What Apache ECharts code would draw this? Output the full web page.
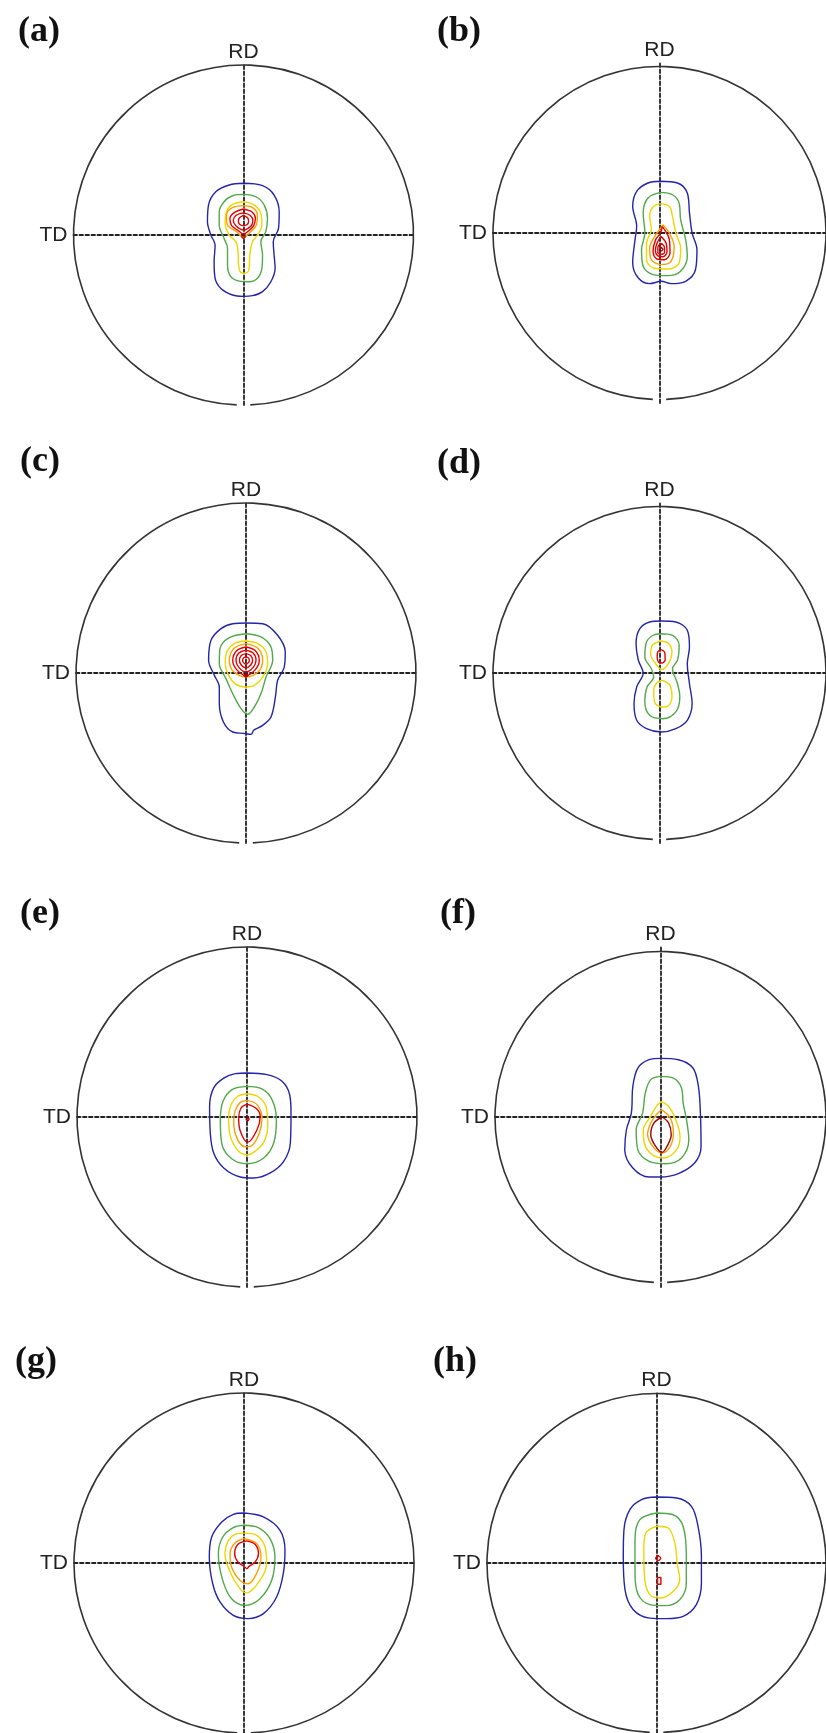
<!DOCTYPE html>
<html>
<head>
<meta charset="utf-8">
<script src="https://cdn.jsdelivr.net/npm/echarts@6/dist/echarts.min.js"></script>
<style>
html,body{margin:0;padding:0;background:#fff;}
#chart{width:826px;height:1733px;}
</style>
</head>
<body>
<div id="chart"></div>
<script>
// ---- data: contour lines of the pole figures, in % of the projection radius ----
const panelLabels = ['(a)', '(b)', '(c)', '(d)', '(e)', '(f)', '(g)', '(h)'];
const axisNames = { horizontal: 'TD', vertical: 'RD' };
const levelColors = ['#2424a8', '#52a84a', '#ecd800', '#ffa000', '#e60000', '#a00000'];

const aBlue = [[0,30.4],[11.2,29.0],[18.0,23.5],[21.0,13.7],[20.6,3.9],[17.5,-3.9],[18.0,-11.8],[18.6,-19.6],[16.1,-27.5],[11.2,-33.3],[5.3,-35.7],[0,-36.1],[-6.5,-35.3],[-13.3,-31.4],[-16.7,-25.5],[-17.3,-15.7],[-16.7,-5.9],[-19.2,0],[-21.2,7.8],[-20.6,17.6],[-16.3,25.5],[-8.4,29.4]];
const aGreen = [[0,23.9],[7.3,22.5],[12.2,17.6],[14.1,9.8],[13.1,2.0],[10.2,-3.9],[11.2,-11.8],[10.8,-19.6],[8.2,-25.5],[3.3,-27.5],[-2.5,-27.1],[-7.5,-24.5],[-9.4,-17.6],[-9.4,-7.8],[-11.4,-2.0],[-14.3,5.9],[-14.3,13.7],[-11.4,19.6],[-6.5,23.1]];
const aYellow = [[0,19.6],[6.3,17.6],[10.2,12.7],[10.8,5.9],[8.2,0],[5.3,-3.9],[3.7,-11.8],[3.3,-19.6],[1.4,-22.5],[-1.6,-22.0],[-2.9,-17.6],[-3.3,-8.8],[-4.5,-3.9],[-8.4,0],[-10.8,6.9],[-10.0,13.7],[-6.5,18.0]];
const aOrange = [[0,17.3],[5.3,16.1],[8.2,11.8],[7.6,5.9],[4.3,2.0],[0,-1.4],[-4.1,2.0],[-9.4,5.9],[-10,11.8],[-6.5,16.1]];
const aRed1 = [[0,15.3],[5,13.5],[7,9.8],[6,5.5],[3,2.5],[0,0.5],[-3,2.5],[-7,5.5],[-8,9.8],[-5,13.5]];
const aRed2 = [[0,13],[4,11.5],[5.5,8.5],[4.5,5.5],[0,3],[-4.5,5.5],[-6,8.5],[-4.5,11.5]];
const aRed3 = [[0,11.5],[2.5,10],[3,8],[2,6],[0,5.5],[-2,6],[-3,8],[-2.5,10]];
const aDark = [[0,0],[1,-1],[0,-2],[-1,-1]];

const bBlue = [[0.6,30.4],[10.8,29.4],[16.7,23.5],[18.0,11.8],[19.6,0],[22.5,-9.8],[21.6,-21.6],[15.7,-28.4],[6.9,-29.8],[1.0,-28.4],[-5.9,-29.8],[-12.7,-26.5],[-16.1,-17.6],[-14.7,-3.9],[-13.7,3.9],[-16.1,15.7],[-13.7,24.5],[-6.9,29.4]];
const bGreen = [[0.6,23.9],[7.8,22.5],[11.8,17.6],[12.7,7.8],[15.7,-3.9],[16.7,-13.7],[12.7,-22.5],[4.9,-25.1],[-3.9,-24.5],[-9.8,-19.6],[-10.8,-9.8],[-8.8,0],[-9.8,11.8],[-6.9,20.6]];
const bYellow = [[0.6,17.3],[5.9,15.7],[7.8,9.8],[9.8,0],[12.7,-8.8],[11.8,-17.6],[4.9,-21.2],[-3.5,-20.6],[-7.8,-15.7],[-7.8,-5.9],[-4.9,2.0],[-5.9,9.8],[-3.9,15.3]];
const bOrange = [[2.0,4.9],[5.9,0],[8.8,-7.8],[6.9,-16.7],[1.0,-18.6],[-4.9,-15.7],[-5.9,-8.8],[-2.9,-2.0],[0,2.0]];
const bRed1 = [[1.6,3.9],[5.9,-3.9],[6.3,-11.8],[2.9,-15.7],[-1.6,-15.3],[-3.9,-10.8],[-2.3,-3.9],[0.6,0]];
const bRed2 = [[1,-2],[4,-6],[4.5,-11],[2,-14],[-1,-13.5],[-2.5,-10.5],[-1.5,-6]];
const bRed3 = [[1,-6],[3,-8.5],[3,-11.5],[1,-12.5],[-1,-11.5],[-1,-8.5]];
const bDark = [[1,-8.5],[2,-9.5],[1,-10.5],[0,-9.5]];

const cBlue = [[0,29.4],[9.8,29.0],[18.6,22.2],[23.1,12.4],[22.5,3.5],[18.6,-4.3],[17.3,-14.1],[14.7,-25.9],[9.8,-30.8],[4.5,-33.7],[3.0,-36.1],[-1.5,-35.5],[-7.8,-34.7],[-13.3,-28.8],[-15.7,-18.0],[-15.7,-8.2],[-18.6,-1.4],[-22.0,7.5],[-20.6,19.2],[-14.7,26.1],[-7.8,29.0]];
const cGreen = [[0,23.1],[8.8,21.2],[14.7,15.3],[15.7,7.5],[11.8,-2.4],[8.8,-12.2],[4.9,-20.0],[1.0,-24.3],[-2.9,-21.0],[-7.8,-12.2],[-11.8,-3.3],[-15.7,5.5],[-15.3,14.3],[-9.8,20.8]];
const cYellow = [[0,18.8],[6.9,17.3],[11.8,12.4],[12.7,5.5],[9.8,-2.4],[4.9,-7.3],[0,-8.2],[-5.9,-6.7],[-10.2,-1.4],[-12.2,6.5],[-10.8,13.3],[-6.3,17.6]];
const cOrange = [[0,17.3],[7,14.5],[9.8,7.5],[7.5,1],[0,-2.4],[-7.5,1],[-9.8,7.5],[-7,14.5]];
const cRed1 = [[0,15.3],[5.5,13.1],[7.8,7.5],[5.5,2.0],[0,-1.4],[-5.5,2.0],[-7.8,7.5],[-5.5,13.1]];
const cRed2 = [[0,13.4],[4.2,11.7],[5.9,7.5],[4.2,3.3],[0,0.6],[-4.2,3.3],[-5.9,7.5],[-4.2,11.7]];
const cRed3 = [[0,11.4],[2.8,10.3],[3.9,7.5],[2.8,4.7],[0,3.0],[-2.8,4.7],[-3.9,7.5],[-2.8,10.3]];
const cRed4 = [[0,9.5],[1.4,8.9],[2,7.5],[1.4,6.1],[0,5.0],[-1.4,6.1],[-2,7.5],[-1.4,8.9]];
const cDark = [[0,-0.6],[1.2,-1.4],[0,-2.2],[-1.2,-1.4]];

const dBlue = [[1.0,30.6],[9.8,30.0],[16.7,25.1],[18.0,15.3],[16.7,5.5],[18.0,-6.3],[19.6,-18.0],[16.7,-27.8],[9.8,-32.7],[1.0,-34.7],[-7.8,-32.7],[-13.7,-27.8],[-15.3,-18.0],[-13.7,-8.2],[-9.8,0],[-12.7,7.5],[-14.1,17.3],[-11.8,26.1],[-5.9,30.0]];
const dGreen = [[0.6,23.1],[7.8,22.2],[11.8,16.3],[10.8,7.5],[7.8,2.5],[10.8,-6.3],[12.2,-14.1],[9.8,-22.9],[2.0,-26.9],[-5.9,-24.9],[-8.8,-17.1],[-7.5,-8.2],[-3.5,-2.4],[-4.9,2.5],[-8.8,9.4],[-7.8,18.2],[-3.9,22.2]];
const dYellow1 = [[1.0,18.8],[5.5,17.3],[7.5,12.4],[5.9,6.5],[1.6,2.0],[-2.4,5.5],[-5.3,11.0],[-4.3,16.3]];
const dYellow2 = [[2.0,-4.3],[6.3,-7.3],[7.5,-14.1],[4.9,-19.6],[1.0,-20.0],[-2.9,-17.1],[-3.5,-10.2],[-1.6,-5.7]];
const dRed = [[1,13.7],[3.2,12],[3.4,8],[1.6,5.9],[-0.6,6.5],[-1.4,9.5],[-1,12.5]];

const eBlue = [[0,25.9],[11.8,24.9],[20.6,21.0],[25.1,13.1],[25.9,2.4],[25.5,-15.3],[21.6,-26.1],[13.7,-32.9],[3.9,-35.9],[-3.9,-35.3],[-13.7,-30.0],[-19.6,-21.2],[-21.6,-9.4],[-22.0,6.3],[-19.6,17.1],[-13.7,22.9],[-6.9,25.5]];
const eGreen = [[0,18.0],[8.8,16.5],[14.7,10.2],[17.3,-1.6],[15.7,-15.3],[9.8,-24.1],[0,-27.5],[-8.8,-24.7],[-14.7,-16.3],[-15.7,-1.6],[-14.1,9.2],[-8.8,16.1]];
const eYellow = [[0,13.7],[6.9,11.8],[11.4,5.3],[12.2,-5.5],[9.8,-14.9],[3.9,-20.8],[0,-22.2],[-4.9,-20.2],[-9.8,-11.4],[-10.8,-0.6],[-9.4,7.3],[-5.5,12.2]];
const eOrange = [[0,9.8],[5.9,7.3],[8.8,-0.6],[7.3,-9.4],[2.4,-17.1],[-1.0,-17.5],[-5.5,-13.3],[-7.8,-3.5],[-6.9,3.9],[-3.9,8.6]];
const eRed = [[0,7.6],[5.5,5],[7.8,0.4],[5.9,-7.5],[0.4,-14.9],[-3.9,-8.4],[-4.9,-0.6],[-3.5,5.3]];
const eDark = [[0.4,0],[1.2,-1.2],[0.4,-2.2],[-0.5,-1.2]];

const fBlue = [[0,34.5],[10.8,33.7],[19.6,28.8],[22.9,18.0],[24.1,2.4],[24.5,-17.3],[20.6,-27.1],[10.8,-33.3],[0,-35.3],[-6.9,-35.3],[-16.7,-30.0],[-21.6,-19.2],[-20.6,-7.5],[-17.6,2.4],[-16.7,18.0],[-13.7,28.8],[-6.9,33.7]];
const fGreen = [[0,23.9],[7.8,22.9],[12.7,17.1],[13.7,8.2],[15.7,-1.6],[17.1,-13.3],[12.7,-24.1],[2.9,-27.5],[-6.9,-26.1],[-13.7,-19.2],[-14.7,-7.5],[-10.8,2.4],[-9.2,14.1],[-5.9,22.0]];
const fYellow = [[0.6,9.2],[4.9,6.3],[9.2,-1.6],[11.8,-11.4],[9.8,-19.2],[2.0,-24.1],[-4.9,-22.2],[-9.8,-15.3],[-10.4,-7.5],[-5.9,0.4],[-2.5,6.3]];
const fOrange = [[0.6,4.3],[5.9,-0.6],[7.8,-9.4],[5.9,-17.3],[1.0,-21.2],[-4.5,-17.6],[-7.8,-10.2],[-5.9,-3.5],[-2.5,1.4]];
const fRed = [[1.0,0],[4.9,-3.5],[6.5,-10.4],[3.9,-17.3],[1.0,-20.8],[-2.9,-17.3],[-5.9,-10.4],[-3.9,-3.5]];

const gBlue = [[0,29.4],[11.4,27.1],[21.2,19.2],[24.1,7.5],[23.1,-6.3],[19.2,-20.0],[11.4,-29.8],[2.5,-32.7],[-6.3,-30.8],[-14.1,-22.9],[-18.4,-12.2],[-20.4,3.5],[-19.0,15.3],[-13.1,24.1],[-6.3,28.6]];
const gGreen = [[0,22.2],[8.4,20.8],[15.3,14.3],[18.2,3.5],[16.3,-10.2],[9.4,-21.0],[0.6,-24.9],[-7.3,-21.0],[-12.5,-10.2],[-15.1,5.5],[-12.5,15.3],[-6.3,20.8]];
const gYellow = [[0,17.6],[7.5,16.3],[12.4,9.4],[13.3,-0.4],[9.4,-10.2],[1.6,-17.6],[-2.4,-15.1],[-8.2,-5.3],[-11.2,5.5],[-9.2,13.3],[-5.3,16.9]];
const gOrange = [[0,14.3],[7.5,11.4],[10.0,3.5],[7.8,-5.3],[2.5,-12.2],[-2.4,-10.2],[-7.3,-2.4],[-8.2,5.5],[-5.3,11.8]];
const gRed = [[1.6,13],[6.5,11],[8.5,5.5],[6.5,0.5],[3,-2],[1.6,-3.3],[0,-2],[-3.5,0.5],[-5.5,5.5],[-3.5,11]];

const hBlue = [[0,38.8],[11.8,38.2],[20.6,33.3],[24.5,21.6],[26.5,3.9],[26.5,-11.8],[23.5,-24.5],[15.7,-31.4],[5.9,-32.7],[-3.9,-32.4],[-13.7,-27.5],[-18.6,-15.7],[-19.6,3.9],[-19.2,19.6],[-15.7,31.4],[-8.8,37.3]];
const hGreen = [[0,29.4],[9.8,28.4],[15.7,21.6],[17.6,3.9],[17.6,-11.8],[13.7,-21.6],[4.9,-25.1],[-3.9,-24.5],[-10.8,-18.6],[-12.7,-5.9],[-12.7,13.7],[-9.8,25.5]];
const hYellow = [[0,21.6],[6.9,20.6],[10.8,11.8],[12.2,0],[13.7,-9.8],[9.8,-16.7],[2.0,-20.6],[-3.9,-18.6],[-6.9,-9.8],[-7.5,7.8],[-6.3,17.6]];
const hRed1 = [[1,4.4],[2.5,2.9],[1,1.4],[-0.5,2.9]];
const hRed2 = [[0.6,-8.5],[2.6,-8.5],[2.6,-12.5],[0.6,-12.5]];

// contours per panel: [points, level index]
const panelContours = [
  [[aBlue,0],[aGreen,1],[aYellow,2],[aOrange,3],[aRed1,4],[aRed2,4],[aRed3,4],[aDark,5]],
  [[bBlue,0],[bGreen,1],[bYellow,2],[bOrange,3],[bRed1,4],[bRed2,4],[bRed3,4],[bDark,5]],
  [[cBlue,0],[cGreen,1],[cYellow,2],[cOrange,3],[cRed1,4],[cRed2,4],[cRed3,4],[cRed4,4],[cDark,5]],
  [[dBlue,0],[dGreen,1],[dYellow1,2],[dYellow2,2],[dRed,4]],
  [[eBlue,0],[eGreen,1],[eYellow,2],[eOrange,3],[eRed,4],[eDark,5]],
  [[fBlue,0],[fGreen,1],[fYellow,2],[fOrange,3],[fRed,5]],
  [[gBlue,0],[gGreen,1],[gYellow,2],[gOrange,3],[gRed,4]],
  [[hBlue,0],[hGreen,1],[hYellow,2],[hRed1,4],[hRed2,4]]
];
const projectionRadius = 100;

// ---- layout ----
const SIZE = 340;
const centers = [[243.5,235],[663,233],[246,673],[663,673],[247,1117],[665,1117],[244,1563],[657,1563]];
const labelPos = [[13,9],[432,9],[15,439],[432,441],[15,891],[435,891],[10,1339],[428,1339]];

const chart = echarts.init(document.getElementById('chart'), null, {renderer:'canvas'});

const grids = [], xAxes = [], yAxes = [], titles = [], series = [];
const gap = 0.04;
centers.forEach((c, i) => {
  grids.push({left: c[0] - SIZE/2, top: c[1] - SIZE/2, width: SIZE, height: SIZE, containLabel: false});
  const dash = {color: '#222', width: 1.8, type: [3.5, 2.5]};
  xAxes.push({
    gridIndex: i, type: 'value', min: -projectionRadius, max: projectionRadius,
    name: axisNames.horizontal, nameLocation: 'start', nameGap: 6,
    nameTextStyle: {fontFamily: 'Liberation Sans', fontSize: 21, color: '#222'},
    axisLine: {show: true, onZero: true, lineStyle: dash},
    axisTick: {show: false}, axisLabel: {show: false}, splitLine: {show: false}
  });
  yAxes.push({
    gridIndex: i, type: 'value', min: -projectionRadius, max: projectionRadius,
    name: axisNames.vertical, nameLocation: 'end', nameGap: 2,
    nameTextStyle: {fontFamily: 'Liberation Sans', fontSize: 21, color: '#222'},
    axisLine: {show: true, onZero: true, lineStyle: dash},
    axisTick: {show: false}, axisLabel: {show: false}, splitLine: {show: false}
  });
  titles.push({
    text: panelLabels[i], left: labelPos[i][0], top: labelPos[i][1],
    textStyle: {fontFamily: 'Liberation Serif', fontWeight: 'bold', fontSize: 36, color: '#111'}
  });
  // projection circle (with the small gap at the bottom as in the original)
  series.push({
    type: 'custom', coordinateSystem: 'cartesian2d', xAxisIndex: i, yAxisIndex: i,
    data: [[0, 0]], silent: true, clip: false,
    renderItem: function (params, api) {
      const o = api.coord([0, 0]);
      const e = api.coord([projectionRadius, 0]);
      const r = e[0] - o[0];
      return {
        type: 'arc',
        shape: {cx: o[0], cy: o[1], r: r, startAngle: Math.PI/2 + gap, endAngle: Math.PI/2 - gap + 2*Math.PI, clockwise: true},
        style: {stroke: '#333', fill: 'none', lineWidth: 1.6}
      };
    }
  });
  panelContours[i].forEach(([pts, lvl]) => {
    series.push({
      type: 'line', xAxisIndex: i, yAxisIndex: i,
      data: pts.concat([pts[0]]),
      smooth: 0.35, showSymbol: false, symbol: 'none', silent: true,
      lineStyle: {color: levelColors[lvl], width: 1.4},
      z: 3
    });
  });
});

chart.setOption({
  animation: false,
  backgroundColor: '#fff',
  title: titles,
  grid: grids,
  xAxis: xAxes,
  yAxis: yAxes,
  series: series
});
</script>
</body>
</html>
